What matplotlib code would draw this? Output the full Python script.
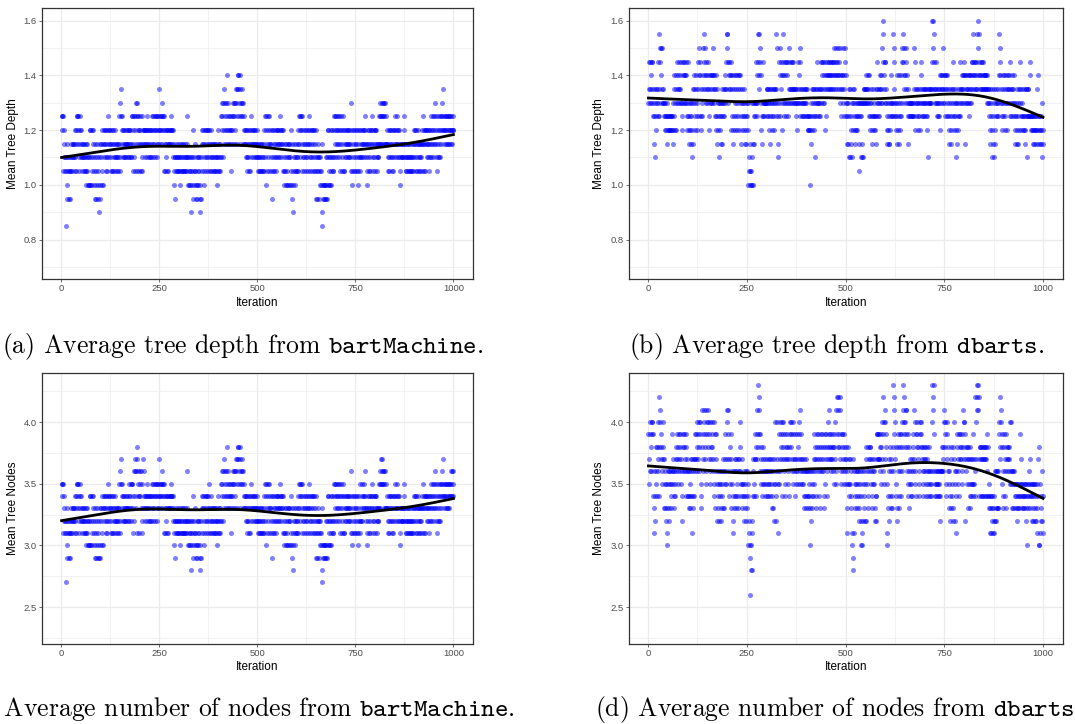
import numpy as np
import matplotlib
matplotlib.use("Agg")
import matplotlib.pyplot as plt
from matplotlib.ticker import FixedLocator

# ---------------- data ----------------
# one character per iteration (1..1000); groups of 10 iterations, 50 per line
# depth code k -> 0.80 + 0.05*k ; nodes code k -> 2.6 + 0.1*k  (k in base 18: 0-9, A-H)
depth_bartmachine_codes = """
9985967856 5164735635 6535676576 7675867589 9897659876
8765765675 6754567464 4688464586 8754376534 7643526437
6748574867 8765876598 8768756785 7856786576 7657657956
AB97896876 8768767876 7868786679 9857968597 AA95879587
9857965878 8786787896 7868768786 9879687986 897698798B
98798A9789 9857586758 8757878789 8787684536 6576565756
6574567565 7565675656 9746546546 5264835465 7543634564
5623463587 8754687658 7865876857 8657657657 6576546785
657567968A 9A687B9A87 A8C97A8978 987598A79A 9A87BA9B7C
BCA9CB7A9B A97A789786 8765876587 5876987687 8767867876
7655675675 6575678596 8947569857 9876578365 8756876587
8768769876 8778854657 5467547647 7646854732 4576456756
5675897896 9879568756 8765876587 9876587658 8765876538
6537653654 6541723434 4346346384 8645648546 8565986978
9876987698 7598657985 5876876876 8768767A85 5487658765
8765874568 5687687687 8769876754 8765876587 8796587658
8875676767 979A79A79A 9A79A79777 8657865786 8765875687
9876987687 8654767676 7679867565 7657657656 5675675678
8765876587 6576576757 8795875878 8768768576 8769876987
98A7698756 9876968798 9A8B987987 9879879879 8978978988
"""

depth_dbarts_codes = """
ABDABDCABD D9AB79A68B 9AB9DA9BFE DEACEBABA9 A98A987A98
9898989898 9A87CB98A8 BCADBACBDA CBADA98CDA CDACDAC98D
A987A987A9 86B7ACB9A8 CBA98DBCE9 DCB989AECB DFECBADCBA
DCB98ACBAC CBAECBAC9B C987BA98A6 8A97A97BA9 A9BABCBDFE
FADCBDCB8D C9B87C9B8C AC9B8AC9B8 CABC798AB9 AB987A987A
98A4564574 546A74A97A A9DAC9AFDC BFEDC8A97D A9A9AAAAAB
B9AB9A8B97 AB98AB98AB BA9BFEA976 DA9CEBDCA8 FDCA9DCA9D
CDA9AEBDAB DBADBADBAB BAB9ABA8DA BCAED9AB9A BA9BA9BA9B
AB98989898 47AB98AB98 B6A9BAD9BA A9BA9BDABD CABDACBD8C
9CBDCBDCDB CBDCBDCBDC DECBDECBDC ECBDECA9BC CBEA9CBDEC
A97A97AB69 6B987A68BA B987A98A98 A9A759A6A9 7A6A6BABAB
BACABCABC9 A98BA978B9 A989879BAD B9A9BABCAB CAEFGDBCAD
DAB879A897 7A89AC9A9A FBEDA9A987 CA987CA989 CDAEDFEBCA
CDEBCAB97A A9A9A9A9A9 A9EBDA89BA BA98BA98AC BDA9BA9BA9
BA9BA986AB ABABABABDG GEFBDABDAB A9BA9BA98C BCABCAEBCA
CB9CB9ACB9 87AB987A9B BDA98BA98A 67AB98A9DB 9BACBACBAC
DC7BACBACB A9CBACBACD DCFBDCBDCB DFCBEGFDCB CBDCBDCBDC
BCBCBCBACB AB9AB879AB 6879A6B789 AB9AB9AFCD ECAB98ACB9
CAB89CA8BA CBACBD9AB9 BCA9BCA987 A9B87A97B8 BAD98AB989
8B987B9B69 B9B99D9C89 9898798798 9879B8C798 987987A687
"""

nodes_bartmachine_codes = """
9985967856 5164735635 6535676576 7675867589 9897659876
8765765675 6754567464 4688464586 8754376534 7643536437
6748574867 8765876598 8768756785 7856786576 7657657956
AB97896876 8768767876 7869786979 9857A68AB7 ACB58A958A
98A7965B7A 8786787896 7868768786 9879687986 897698798B
98798A9789 9857586758 8757878789 8787684536 6576565756
6574567565 7565675656 A746546546 5264835465 7543634564
5623463587 8754687658 7865876957 8657657657 6576546785
657567968A 9A687B9A87 A8C97A8978 987598A79A 9A87BA9B7C
BCA9CB7A9B A97A789786 8765876587 5876987687 8767867876
7655675675 6575678596 8947569857 9876578365 8756876587
8768769876 8778854657 5467547647 7646854732 4576456756
5675897896 9879568756 8765876587 9876587658 8765876538
6537653654 6541723434 4346346384 8645648546 8565986978
9876987698 7598657985 5876876876 8768767A85 5487658765
8765874568 5697689687 879A876754 8765876587 8796587658
8875676767 979AB9AB9A 9A79A79777 8657865786 8765875687
9876987687 8654767676 7679867565 7657657656 5675675678
8765876587 6576576757 8795875878 8768768576 8769876987
98A7698756 9876968798 9A8B987987 9879879879 89A89A8A98
"""

nodes_dbarts_codes = """
DB9AEDCAED E8D75A869C AC8BEA8CGF ECBD9AECB7 BA9769574A
9A679A879A DA9B87A98B ACDB9ACDBA DCB9A86DCA DCBA8DCBA8
A87A879A8B B587AB8ADB DBAECDBAEC ED987FCBAD FEDCBA9FED
FECDBA9ECB EDCBA98E7D DBA9687A96 A9867A987A B7A9BDA9EB
FDF8ABC97D BA98567AB8 AB87A9B87A BECA987B98 986A7986A7
A984560342 4256B8A98B BD8CDBFHCD GFAD9CB8A9 CBA98AB9A8
BA98AB98AB A97B8A796B 9EA86BEA95 D9EBACD8BE EDCAB8D9CB
DCBA98CBED CEDBA9EDBA DB8A9BDA9C DBEFA9DBA9 BA987BA87A
B8A78A987A 4A6897A89B DCBA87DCBA DC8BA7DCBA DCBA87DC9B
DC8AEBDFCB DCBADCBAC9 DCEBFA9DGC FGCDGFBA9D CDBA9DCBA9
CBA579CB89 B9A8754B32 5A987A987A A9867A9684 54A9687A96
6CBA987CBA CBCA987BA9 BA967868BD DBDBDBCA9D CBEAGD9EBF
EDC45987BA 6C87BA87CA HGFDEB9C87 6DCA87DCA8 DECAFHGEDC
EFDFCA98D7 CA9B8A9B8A DCFBEA98DC EDCBA98EDC EDBCA98BAC
CBA98CBA98 CA98A98AHE GFHDA98A98 A98A98A968 AAAACBACEF
CED98EBDAC 7A986CB798 76CBEA968A 5DCBA98DCB DCBA9DCFEB
E6DCBA9CB7 CB978C9B89 B98D9BG8AB EFGHFHGB8C CB8CB8CB8C
B8CB8CBDA8 C897587587 68576856A7 A67A7A7EDC BGFED9C87A
DCBA87DCBA CBACBE9EA9 A79A79A897 9876987987 98DB987987
9879876984 987A9B8798 9689678967 986759B8C4 4958676A58
"""

x_ticks = [0, 250, 500, 750, 1000]
x_minor = [125, 375, 625, 875]
depth_ticks = [0.8, 1.0, 1.2, 1.4, 1.6]
depth_minor = [0.7, 0.9, 1.1, 1.3, 1.5]
nodes_ticks = [2.5, 3.0, 3.5, 4.0]
nodes_minor = [2.25, 2.75, 3.25, 3.75, 4.25]

captions = [
    r"(a) Average tree depth from $\mathtt{bartMachine}$.",
    r"(b) Average tree depth from $\mathtt{dbarts}$.",
    r"(c) Average number of nodes from $\mathtt{bartMachine}$.",
    r"(d) Average number of nodes from $\mathtt{dbarts}$.",
]


def decode(codes, base, step):
    chars = "".join(codes.split())
    return np.array([base + step * int(c, 18) for c in chars])


depth_bm = decode(depth_bartmachine_codes, 0.80, 0.05)
depth_db = decode(depth_dbarts_codes, 0.80, 0.05)
nodes_bm = decode(nodes_bartmachine_codes, 2.6, 0.1)
nodes_db = decode(nodes_dbarts_codes, 2.6, 0.1)


# ---------------- smoother (penalised cubic B-spline) ----------------
def bspline_basis(x, xl, xr, nseg, deg=3):
    dx = (xr - xl) / nseg
    t = xl + dx * np.arange(-deg, nseg + deg + 1)
    B = ((x[:, None] >= t[None, :-1]) & (x[:, None] < t[None, 1:])).astype(float)
    for k in range(1, deg + 1):
        left = (x[:, None] - t[None, :-(k + 1)]) / (t[None, k:-1] - t[None, :-(k + 1)])
        right = (t[None, k + 1:] - x[:, None]) / (t[None, k + 1:] - t[None, 1:-k])
        B = left * B[:, :-1] + right * B[:, 1:]
    return B


def smooth(x, y, target_df=5.0, nseg=20):
    B = bspline_basis(x, x.min() - 1e-6, x.max() + 1e-6, nseg)
    nb = B.shape[1]
    D = np.diff(np.eye(nb), 2, axis=0)
    P = D.T @ D
    BtB = B.T @ B
    Bty = B.T @ y
    best = None
    for lam in np.logspace(-2, 9, 240):
        df = np.trace(np.linalg.solve(BtB + lam * P, BtB))
        if best is None or abs(df - target_df) < abs(best[1] - target_df):
            best = (lam, df)
    a = np.linalg.solve(BtB + best[0] * P, Bty)
    return B @ a


# ---------------- figure ----------------
W, H = 1075, 724
plt.rcParams["mathtext.fontset"] = "cm"
fig = plt.figure(figsize=(W / 100, H / 100), dpi=100)


def rect(l, t, r, b):
    return [l / W, 1 - b / H, (r - l) / W, (b - t) / H]


panels = [
    dict(r=rect(42, 8.3, 473, 279.3), y=depth_bm, lab="Mean Tree Depth",
         lim=(0.655, 1.645), tk=depth_ticks, mn=depth_minor, labx=13.5, df=5.0),
    dict(r=rect(628.7, 8.3, 1062.7, 279.3), y=depth_db, lab="Mean Tree Depth",
         lim=(0.655, 1.645), tk=depth_ticks, mn=depth_minor, labx=599.0, df=5.5),
    dict(r=rect(42, 372.7, 473, 644), y=nodes_bm, lab="Mean Tree Nodes",
         lim=(2.2, 4.4), tk=nodes_ticks, mn=nodes_minor, labx=13.5, df=5.0),
    dict(r=rect(628.7, 372.7, 1062.7, 644), y=nodes_db, lab="Mean Tree Nodes",
         lim=(2.2, 4.4), tk=nodes_ticks, mn=nodes_minor, labx=599.0, df=5.5),
]

sans = ["Liberation Sans", "DejaVu Sans"]
for p in panels:
    ax = fig.add_axes(p["r"])
    y = p["y"]
    x = np.arange(1, len(y) + 1, dtype=float)
    ax.scatter(x, y, s=13, color="#0000FF", alpha=0.5, linewidths=0, zorder=3)
    ax.plot(x, smooth(x, y, target_df=p["df"]), color="black", lw=2.0, zorder=4)
    ax.set_xlim(-48.95, 1049.95)
    ax.set_ylim(*p["lim"])
    ax.xaxis.set_major_locator(FixedLocator(x_ticks))
    ax.xaxis.set_minor_locator(FixedLocator(x_minor))
    ax.yaxis.set_major_locator(FixedLocator(p["tk"]))
    ax.yaxis.set_minor_locator(FixedLocator(p["mn"]))
    ax.set_xticklabels([str(v) for v in x_ticks])
    ax.set_yticklabels(["{:.1f}".format(v) for v in p["tk"]])
    ax.grid(True, which="major", color="#EBEBEB", lw=0.9, zorder=0)
    ax.grid(True, which="minor", color="#EBEBEB", lw=0.5, zorder=0)
    ax.set_axisbelow(True)
    for s in ax.spines.values():
        s.set_color("#333333")
        s.set_linewidth(0.9)
    ax.tick_params(which="major", length=2.2, width=0.5, color="#333333",
                   labelsize=6.8, labelcolor="#4D4D4D", pad=1.5)
    ax.tick_params(which="minor", length=0)
    for t in ax.get_xticklabels() + ax.get_yticklabels():
        t.set_family(sans)
    ax.set_xlabel("Iteration", fontsize=8.5, family=sans, va="center")
    ax.set_ylabel(p["lab"], fontsize=8.5, family=sans, va="center")
    left_px = p["r"][0] * W
    wpx = p["r"][2] * W
    hpx = p["r"][3] * H
    ax.xaxis.set_label_coords(0.5, -23.5 / hpx)
    ax.yaxis.set_label_coords((p["labx"] - left_px) / wpx, 0.5)

cap_kw = dict(fontsize=18.5, family="cmr10", va="baseline")
fig.text(2 / W, 1 - 353 / H, captions[0], ha="left", **cap_kw)
fig.text(629 / W, 1 - 353 / H, captions[1], ha="left", **cap_kw)
fig.text(515 / W, 1 - 716 / H, captions[2], ha="right", **cap_kw)
fig.text(595 / W, 1 - 716 / H, captions[3], ha="left", **cap_kw)

fig.savefig("out.png", dpi=100, facecolor="white")
